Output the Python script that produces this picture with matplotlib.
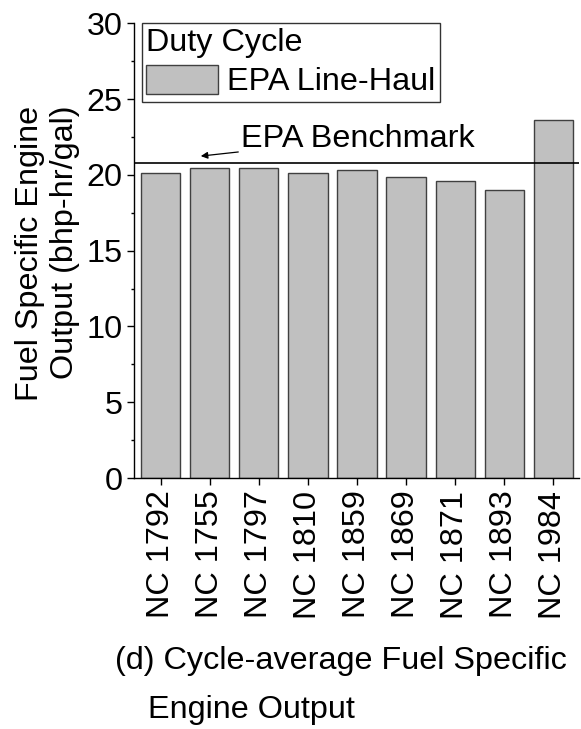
import matplotlib
matplotlib.use("Agg")
import matplotlib.pyplot as plt
from matplotlib.ticker import MultipleLocator

plt.rcParams['font.family'] = ['Liberation Sans', 'DejaVu Sans']

# engines and their cycle-average fuel specific output
engines = ["NC 1792", "NC 1755", "NC 1797", "NC 1810", "NC 1859",
           "NC 1869", "NC 1871", "NC 1893", "NC 1984"]
fseo = [20.13, 20.48, 20.48, 20.15, 20.30, 19.84, 19.58, 19.00, 23.60]
benchmark = 20.8

FS = 23.3

fig = plt.figure(figsize=(5.81, 7.29), dpi=100)
ax = fig.add_axes([0.2306, 0.3443, 0.7660, 0.6237])

pos = list(range(1, len(engines) + 1))
ax.bar(pos, fseo, width=0.8, color="#c0c0c0", edgecolor="#404040",
       linewidth=1.0, label="EPA Line-Haul", zorder=2)
ax.axhline(benchmark, color="black", linewidth=1.2, zorder=3)

ax.annotate("EPA Benchmark", xy=(1.82, 21.24), xytext=(2.64, 21.85),
            fontsize=FS, ha="left", va="baseline",
            arrowprops=dict(arrowstyle="-|>", color="black", lw=0.9,
                            mutation_scale=10, shrinkA=0, shrinkB=0))

ax.set_xlim(0.46, 9.52)
ax.set_ylim(0, 30)
ax.set_xticks(pos)
ax.set_xticklabels(engines, rotation=90, fontsize=FS)
ax.yaxis.set_major_locator(MultipleLocator(5))
ax.yaxis.set_minor_locator(MultipleLocator(2.5))
ax.tick_params(axis="y", labelsize=FS, direction="out", length=5, width=1, pad=3)
ax.tick_params(axis="y", which="minor", direction="out", length=2.5, width=1)
ax.tick_params(axis="x", direction="out", length=5, width=1, pad=4)
for s in ["top", "right"]:
    ax.spines[s].set_visible(False)
for s in ["left", "bottom"]:
    ax.spines[s].set_linewidth(1.0)

fig.text(47.5 / 581, 1 - 253.5 / 729, "Fuel Specific Engine\nOutput (bhp-hr/gal)",
         fontsize=FS, rotation=90, ha="center", va="center",
         multialignment="right", linespacing=1.25)

leg = ax.legend(title="Duty Cycle", loc="upper left", bbox_to_anchor=(0.017, 1.0),
                fontsize=FS, title_fontsize=FS, alignment="left",
                frameon=True, fancybox=False, edgecolor="black",
                handlelength=2.2, handleheight=1.0, handletextpad=0.3,
                borderpad=0.15, borderaxespad=0.0, labelspacing=0.2)
leg.get_frame().set_linewidth(1.0)

fig.text(115 / 581, 1 - 669 / 729, "(d) Cycle-average Fuel Specific",
         fontsize=FS, ha="left", va="baseline")
fig.text(148 / 581, 1 - 718 / 729, "Engine Output",
         fontsize=FS, ha="left", va="baseline")

fig.savefig("out.png", dpi=100)
